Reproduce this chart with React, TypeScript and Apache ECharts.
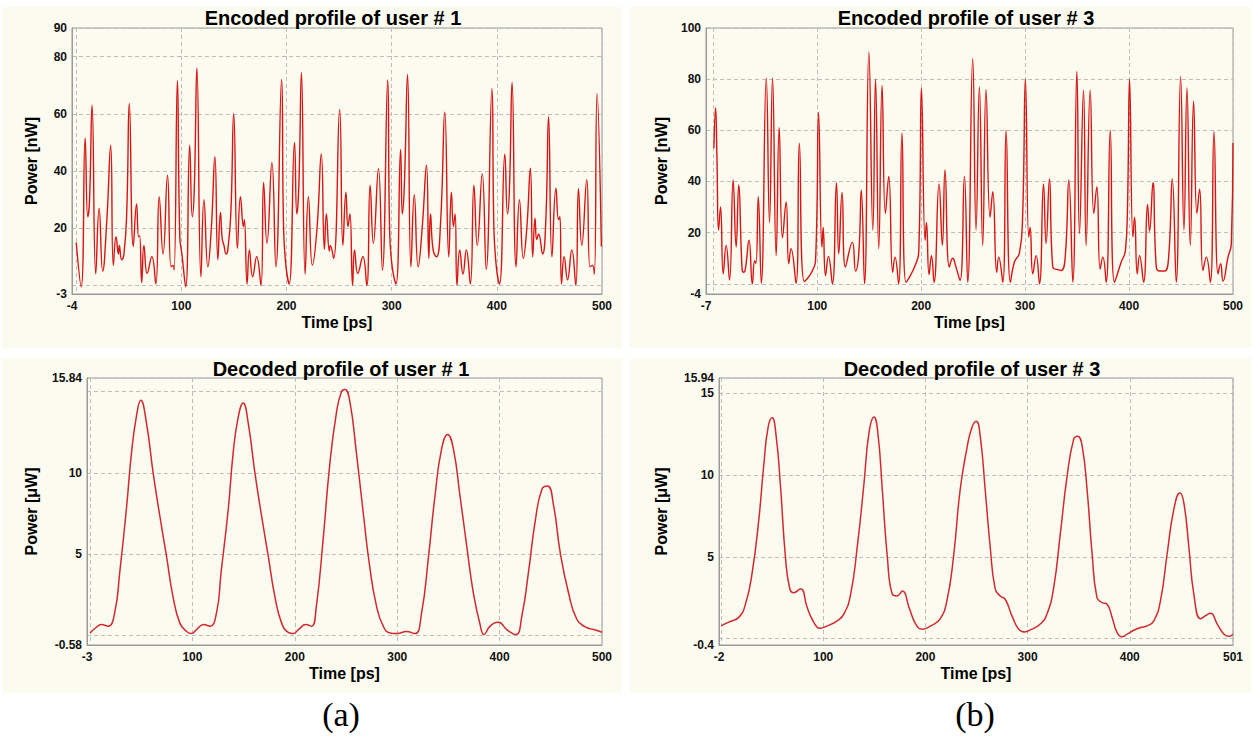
import React, { useEffect, useRef } from 'react';
import * as echarts from 'echarts';

// ---------- DATA ----------
const encoded1: number[][] = [
  [0, 15], [4.7, -0.5], [8.5, 51.6], [11, 24], [12.6, 29], [15.1, 63], [18.6, 4], [21.8, 27], [25.2, 5], [29, 22],
  [32.8, 49], [35.3, 7], [37.9, 17], [40.1, 11], [41, 14], [43.2, 9], [45.4, 11], [48, 25], [50.5, 63.6], [54.3, 13.6],
  [57.4, 28.5], [59.3, 17], [60.3, 17.3], [62.3, 1], [64.4, 14], [67.5, 4.2], [71.9, 10], [75.7, 0.5], [78.9, 31], [82.6, 11],
  [86.8, 38.5], [90.2, 6.5], [92.1, 7], [93.1, 5.5], [96.2, 71.7], [98.5, 17], [100.5, 11], [104.1, -0.5], [107.9, 49], [110.4, 24],
  [112.3, 34], [114.8, 76], [118.6, 3], [121.5, 30], [125.2, 6.5], [128.5, 20], [131.9, 45], [134.7, 9], [137.2, 25.5], [138.8, 16.5],
  [140.5, 14], [142.6, 11], [144, 12], [147, 25], [149.8, 60], [153.3, 13], [156.2, 31], [159, 20.6], [159.9, 23], [162.5, 0.5],
  [164.7, 12.4], [167.8, 3], [171.6, 10], [175.7, 0], [178.2, 36], [181.4, 14.7], [186.1, 43], [189.9, 6.5], [195.3, 72], [197.2, 20],
  [199.4, 7], [202.5, 0.5], [207.6, 50], [209.8, 25], [211.7, 34.6], [214.2, 74.4], [217.7, 4], [220.8, 31], [224.6, 7], [229, 20],
  [233.1, 46], [236, 12.6], [237.9, 25], [240.7, 12], [241.6, 14], [244.8, 9.5], [250.5, 61.5], [253.6, 14], [256.5, 32.6], [258.4, 20.6],
  [260.3, 25], [262.8, 0], [264.7, 12.4], [267.8, 4.2], [272.6, 10], [276.3, 0], [279.5, 35], [282.6, 14.7], [287.4, 40.8], [291.2, 5.4],
  [296.2, 71.8], [298, 20], [300.3, 7], [304.1, 0.5], [308.5, 47.5], [310.1, 25], [312, 34.6], [315.1, 73.8], [318.3, 6.5], [321.5, 31.7],
  [325.2, 6.5], [329, 20], [333.1, 42], [335.3, 9.5], [336.9, 25], [339.4, 12.4], [342.6, 10], [346.5, 22], [350.5, 60.6], [354.3, 10],
  [356.8, 32.6], [358.7, 20.6], [360.3, 25], [362.1, 0], [364.7, 12.4], [367.8, 4], [371, 12.4], [374.8, 0.5], [378.2, 35], [381.4, 14],
  [386.1, 39], [389.9, 5.6], [395.3, 68.8], [397.2, 20], [399.4, 7], [402.5, 0.5], [407.6, 46], [410.1, 25], [412, 34], [414.5, 71],
  [418.3, 6.5], [421.5, 30], [425.2, 9.5], [428.5, 20], [431.9, 41], [434.1, 10], [436.3, 23.5], [437.9, 16], [439.7, 18], [443.5, 11],
  [446.5, 22], [449.2, 59], [452.4, 10], [456.2, 34], [458.7, 23], [460, 24], [461.5, 0.5], [464, 10], [467.2, 2], [471.3, 12.4],
  [475.1, 0], [477.6, 33.8], [480.8, 14], [485.5, 37], [488.6, 6.5], [490.9, 7], [492.7, 4], [495.3, 67], [499.4, 13.6],
];

const encoded3: number[][] = [
  [0.6, 53], [2.2, 68.8], [3.5, 50], [5.1, 21], [7, 30], [9.6, 3.9], [12.4, 15], [15.6, 1.5], [19.1, 40.6], [22, 14.4],
  [24.5, 38.6], [27.7, 5.8], [29.3, 4.5], [30.9, 5.8], [34.4, 17], [37.6, 0], [39.8, 9], [41.1, 8], [43.3, 34], [46.2, 0.2],
  [51, 80.5], [54.1, 24], [57, 80.5], [60.5, 11], [63.4, 61], [66.6, 18], [70.1, 32], [72.6, 7.8], [74.8, 13.7], [79.6, 0.2],
  [82.8, 55], [87.6, 0.9], [94.6, 4.5], [98.5, 10], [101.3, 67], [104.5, 14.4], [105.7, 22], [108, 3.2], [110.8, 10.7], [114.6, 0],
  [118.5, 39.5], [120.7, 11.7], [123.9, 35.7], [127.1, 6.5], [133.8, 16.3], [136.9, 5], [140, 12], [142.4, 36.6], [145.5, 0], [149.7, 90.6],
  [153.5, 21], [156.1, 80], [159.2, 13.7], [162.4, 77.5], [165.6, 27.5], [168.8, 42], [172.6, 4.5], [174.8, 10.4], [178.3, 0], [181.5, 59],
  [185.4, 0.6], [194.9, 7.8], [197.8, 14], [200.3, 76.6], [203.8, 17], [205.1, 24], [207.6, 3.6], [209.9, 11], [212.4, 0.5], [217.2, 39],
  [220.4, 15], [222.9, 44.5], [227.1, 6.5], [230.3, 10], [233.5, 6.5], [237.4, 1.3], [241.6, 42], [244.8, 0.6], [249.6, 88], [252.8, 21],
  [256, 77], [259.2, 15], [262.4, 76], [266.3, 26], [268.9, 36], [272.7, 4.5], [274.6, 10.4], [278.5, 0.6], [281.7, 60], [285.9, 0.6],
  [289.7, 8.5], [294.5, 12], [297.5, 25], [300.3, 80], [303.5, 18.3], [304.8, 22], [307.4, 3.9], [310.6, 11], [313.8, 0], [317.7, 39],
  [320.2, 15.7], [323.4, 41], [326.6, 6.5], [331.5, 5.5], [334.7, 5.2], [338.5, 10], [342.1, 40.6], [345.9, 0.6], [349.8, 83], [352.3, 19.6],
  [356.2, 75.7], [358.7, 15], [362.6, 75.7], [366.1, 27.5], [369, 38], [372.2, 5.8], [374.8, 10.4], [378, 0.6], [381.9, 60], [386, 0.6],
  [392.5, 8.5], [396.5, 13], [398.5, 30], [400.5, 80], [403.7, 18.3], [405.3, 26], [407.9, 3.9], [410.1, 11], [414, 0.6], [417.8, 31],
  [419.7, 20.6], [423, 39.5], [426.2, 6.5], [429.4, 5], [434.2, 5], [438, 10], [441.6, 41], [445.4, 0.6], [449.6, 81], [452.8, 21],
  [455.7, 76.6], [458.9, 15], [462.1, 71.4], [465.3, 27.5], [467.9, 37], [471.1, 5.2], [474.3, 10.4], [478.2, 0.6], [481.7, 59.6], [485.6, 3.9],
  [488.1, 7.8], [490.4, 1], [495.2, 10.4], [498.4, 15.7], [500, 55],
];

const decoded1: number[][] = [
  [0, 0.15], [5, 0.45], [11.1, 0.68], [17.6, 0.58], [24, 1.4], [29, 3.9], [35.5, 7.8], [40.4, 11.2], [45.3, 13.5], [49.5, 14.47],
  [55, 13.1], [61.6, 10], [68, 7.4], [74.6, 4.9], [81, 2.4], [87.6, 0.78], [94, 0.27], [99, 0.12], [104, 0.37], [111, 0.68],
  [117, 0.58], [123.5, 1.4], [128, 3.9], [135, 7.8], [139.7, 11.2], [144.6, 13.4], [149.5, 14.3], [154.4, 13.1], [161, 10], [167.4, 7.4],
  [174, 4.9], [180.5, 2.4], [187, 0.78], [193.5, 0.2], [198.4, 0.12], [204, 0.4], [210.7, 0.68], [216.3, 0.58], [221, 1.8], [227.6, 5.9],
  [234, 10.45], [240.6, 13.7], [245.5, 15], [248.8, 15.14], [253.7, 14.4], [260, 11.3], [266.7, 7.6], [273, 4.3], [279.8, 1.8], [286.3, 0.58],
  [292.8, 0.16], [300, 0.12], [309, 0.25], [317.3, 0.12], [323.8, 1.4], [330.3, 4.7], [336.9, 8.6], [343.4, 11.5], [349.3, 12.37], [354.8, 11.5],
  [361.3, 8.6], [367.9, 5.5], [374.4, 2.6], [380.9, 0.68], [384.8, 0.06], [390.7, 0.58], [398.9, 0.82], [407, 0.37], [415.8, 0.06], [421.7, 1.2],
  [428.2, 3.9], [434.7, 7], [441.3, 9], [446.8, 9.2], [452.7, 8], [459.2, 5.1], [467.4, 2.6], [475.5, 0.99], [483.7, 0.53], [491.8, 0.37],
  [500, 0.2],
];

const decoded3: number[][] = [
  [0, 0.77], [7.5, 1.0], [17.3, 1.29], [23.9, 2.1], [30.4, 4], [37, 7.3], [41.8, 10.6], [46, 12.9], [50, 13.5], [53.9, 12.4],
  [58.2, 9.3], [63, 5], [67.3, 3.04], [71.2, 2.8], [77.8, 3.04], [84.3, 1.9], [90.8, 0.98], [96.7, 0.63], [103.9, 0.77], [113.7, 1.08],
  [120.3, 1.5], [126.8, 2.7], [133.3, 5.6], [139.9, 9.5], [144.8, 12.6], [149.7, 13.56], [153.6, 12.5], [157.8, 9.1], [162.7, 5], [167.6, 2.7],
  [171.9, 2.6], [177.5, 2.9], [184, 1.9], [190.5, 0.88], [197, 0.57], [205.2, 0.77], [214.4, 1.2], [221, 2.3], [227.5, 5], [234, 9.1],
  [240.5, 11.6], [245.4, 12.9], [249.7, 13.29], [253.6, 12.4], [258.5, 9.1], [263.4, 5.6], [268.3, 3.04], [273.2, 2.6], [278.1, 2.4], [284.6, 1.4],
  [291.2, 0.57], [296.7, 0.4], [304.2, 0.57], [312.4, 0.88], [319, 1.5], [325.5, 3.1], [332, 6.4], [338.6, 9.9], [345.1, 12.2], [349, 12.38],
  [353.3, 11.8], [358.2, 9.1], [363.1, 5.2], [367.9, 2.5], [372.9, 2.2], [377.8, 2.1], [382.7, 1.29], [387.6, 0.36], [392.5, 0.1], [397.4, 0.26],
  [403.9, 0.5], [410.5, 0.67], [417, 0.77], [423.5, 1.08], [430, 2.3], [436.6, 5.2], [443.1, 7.9], [449, 8.9], [452.9, 8.3], [457.8, 5.6],
  [462.7, 2.7], [469.3, 1.2], [474.2, 1.4], [479.1, 1.55], [485.6, 0.88], [492.2, 0.26], [497.1, 0.13], [501, 0.26],
];

const panelTitles = [
  'Encoded profile of user # 1',
  'Encoded profile of user # 3',
  'Decoded profile of user # 1',
  'Decoded profile of user # 3',
];
const xMin = [-4, -7, -3, -2];
const xMax = [500, 500, 500, 501];
const yMin = [-3, -4, -0.58, -0.4];
const yMax = [90, 100, 15.84, 15.94];
const xTickLabels = [
  [-4, 100, 200, 300, 400, 500],
  [-7, 100, 200, 300, 400, 500],
  [-3, 100, 200, 300, 400, 500],
  [-2, 100, 200, 300, 400, 501],
];
const yTickLabels = [
  [-3, 20, 40, 60, 80, 90],
  [-4, 20, 40, 60, 80, 100],
  [-0.58, 5, 10, 15.84],
  [-0.4, 5, 10, 15, 15.94],
];
const xName = 'Time [ps]';
const yNames = ['Power [nW]', 'Power [nW]', 'Power [μW]', 'Power [μW]'];
const panelLetters = ['(a)', '(b)'];
const seriesData = [encoded1, encoded3, decoded1, decoded3];

// ---------- LAYOUT / STYLE ----------
const FONT = '"Liberation Sans", Arial, sans-serif';
const grids = [
  { left: 72, top: 28, width: 530, height: 266 },
  { left: 706, top: 28, width: 527, height: 266 },
  { left: 87, top: 378, width: 515, height: 267 },
  { left: 719, top: 378, width: 514, height: 267 },
];
const panels = [
  { x: 2, y: 7, w: 620, h: 341 },
  { x: 630, y: 7, w: 621, h: 341 },
  { x: 2, y: 358, w: 620, h: 335 },
  { x: 630, y: 358, w: 621, h: 335 },
];
const titlePos = [
  { x: 333, y: 8 },
  { x: 966, y: 8 },
  { x: 341, y: 359 },
  { x: 972, y: 359 },
];
const yNameGaps = [33, 37, 48, 50];
const ySplit = [5, 5, 3, 3];
const letterPos = [
  { x: 341, y: 714 },
  { x: 975, y: 714 },
];
const lineColors = ['#d81414', '#d81414', '#d02a30', '#d02a30'];

export default function App() {
  const ref = useRef<HTMLDivElement>(null);
  useEffect(() => {
    if (!ref.current) return;
    const chart = echarts.init(ref.current, undefined, { renderer: 'svg' });
    const labelStyle = { fontFamily: FONT, fontWeight: 'bold', fontSize: 12, color: '#111' };
    const nameStyle = { fontFamily: FONT, fontWeight: 'bold', fontSize: 16, color: '#000' };
    const splitLine = { show: true, lineStyle: { color: '#bdbdbd', type: [4, 3], width: 1 } };
    const axisLine = { show: true, onZero: false, lineStyle: { color: '#9a9a9a', width: 1 } };

    const option: any = {
      animation: false,
      backgroundColor: '#ffffff',
      graphic: [
        ...panels.map((p) => ({
          type: 'rect',
          z: -10,
          silent: true,
          shape: { x: p.x, y: p.y, width: p.w, height: p.h },
          style: { fill: '#fbfbef' },
        })),
        ...panelLetters.map((t, i) => ({
          type: 'text',
          x: letterPos[i].x,
          y: letterPos[i].y,
          style: {
            text: t,
            fontFamily: '"Liberation Serif", "Times New Roman", serif',
            fontSize: 34,
            fill: '#000',
            align: 'center',
            verticalAlign: 'middle',
          },
        })),
      ],
      title: panelTitles.map((t, i) => ({
        text: t,
        left: titlePos[i].x,
        top: titlePos[i].y,
        textAlign: 'center',
        padding: 0,
        textStyle: { fontFamily: FONT, fontWeight: 'bold', fontSize: 20, color: '#000' },
      })),
      grid: grids.map((g) => ({
        ...g,
        show: true,
        borderColor: '#9a9a9a',
        borderWidth: 1,
        backgroundColor: 'transparent',
        containLabel: false,
      })),
      xAxis: grids.map((_, i) => ({
        type: 'value',
        gridIndex: i,
        min: xMin[i],
        max: xMax[i],
        splitNumber: 5,
        name: xName,
        nameLocation: 'middle',
        nameGap: 20,
        nameTextStyle: nameStyle,
        axisLine,
        axisTick: { show: false },
        axisLabel: {
          ...labelStyle,
          margin: 6,
          customValues: xTickLabels[i],
          formatter: (v: number) => String(v),
        },
        splitLine,
      })),
      yAxis: grids.map((_, i) => ({
        type: 'value',
        gridIndex: i,
        min: yMin[i],
        max: yMax[i],
        splitNumber: ySplit[i],
        name: yNames[i],
        nameLocation: 'middle',
        nameGap: yNameGaps[i],
        nameTextStyle: nameStyle,
        axisLine,
        axisTick: { show: false },
        axisLabel: {
          ...labelStyle,
          margin: 5,
          customValues: yTickLabels[i],
          formatter: (v: number) => String(v),
        },
        splitLine,
      })),
      series: seriesData.map((d, i) => ({
        type: 'line',
        xAxisIndex: i,
        yAxisIndex: i,
        data: d,
        showSymbol: false,
        smooth: 0.5,
        clip: true,
        lineStyle: { color: lineColors[i], width: i < 2 ? 1.4 : 1.5 },
      })),
    };
    chart.setOption(option);
    return () => chart.dispose();
  }, []);
  return (
    <div
      ref={ref}
      style={{ position: 'fixed', left: 0, top: 0, width: 1254, height: 749 }}
    />
  );
}
